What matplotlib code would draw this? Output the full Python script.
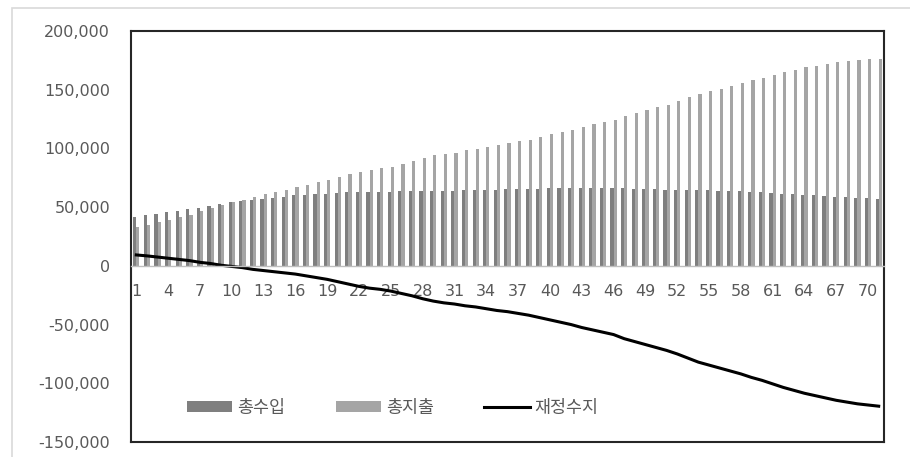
import matplotlib.pyplot as plt
import numpy as np
from matplotlib.patches import Rectangle

plt.rcParams['font.family'] = ['DejaVu Sans', 'Noto Sans CJK KR']

# 총수입 (total revenue), 총지출 (total expenditure), 재정수지 (fiscal balance)
years = list(range(1, 72))
revenue = [42000, 43000, 44500, 45500, 47000, 48000, 49500, 51000, 52500, 54000,
           55000, 56000, 57000, 58000, 59000, 60000, 60500, 61000, 61500, 62000,
           62500, 62500, 63000, 63000, 63000, 63500, 63500, 63500, 64000, 64000,
           64000, 64500, 64500, 65000, 65000, 65500, 65500, 65500, 65500, 66000,
           66000, 66000, 66000, 66000, 66000, 66000, 66000, 65500, 65500, 65500,
           65000, 65000, 65000, 64500, 64500, 64000, 64000, 63500, 63000, 62500,
           62000, 61500, 61000, 60500, 60000, 59500, 59000, 58500, 58000, 57500,
           57000]
expenditure = [32700, 34500, 37000, 39000, 41500, 43500, 46500, 49000, 52000, 54500,
               56500, 59000, 61000, 63000, 65000, 67000, 69000, 71000, 73000, 75500,
               78000, 80000, 82000, 83000, 84500, 87000, 89000, 91500, 94000, 95500,
               96500, 98500, 99500, 101500, 103000, 104500, 106000, 107500, 109500, 112000,
               114000, 116000, 118500, 120500, 122500, 124500, 128000, 130000, 132500, 135000,
               137000, 140000, 143500, 146500, 149000, 151000, 153500, 155500, 158000, 160000,
               162500, 165000, 167000, 169000, 170500, 172000, 173500, 174500, 175500, 176000,
               176500]
balance = [9300, 8500, 7500, 6500, 5500, 4500, 3000, 2000, 500, -500,
           -1500, -3000, -4000, -5000, -6000, -7000, -8500, -10000, -11500, -13500,
           -15500, -17500, -19000, -20000, -21500, -23500, -25500, -28000, -30000, -31500,
           -32500, -34000, -35000, -36500, -38000, -39000, -40500, -42000, -44000, -46000,
           -48000, -50000, -52500, -54500, -56500, -58500, -62000, -64500, -67000, -69500,
           -72000, -75000, -78500, -82000, -84500, -87000, -89500, -92000, -95000, -97500,
           -100500, -103500, -106000, -108500, -110500, -112500, -114500, -116000, -117500, -118500,
           -119500]
labels = ['총수입', '총지출', '재정수지']

W, H = 910, 457
fig = plt.figure(figsize=(W / 100, H / 100), dpi=100)
ax = fig.add_axes([131 / W, 1 - 442 / H, (884 - 131) / W, (442 - 31) / H])

# outer chart frame
fig.patches.append(Rectangle((12 / W, -0.01), 1, 1 - 8 / H + 0.01, transform=fig.transFigure,
                             fill=False, edgecolor='#d9d9d9', linewidth=1.2))

x = np.array(years)
w = 0.3
b1 = ax.bar(x - w / 2, revenue, w, color='#7f7f7f', label=labels[0])
b2 = ax.bar(x + w / 2, expenditure, w, color='#a5a5a5', label=labels[1])
l3, = ax.plot(x, balance, color='black', linewidth=2.2, label=labels[2])

ax.set_xlim(0.5, 71.5)
ax.set_ylim(-150000, 200000)
ax.set_yticks(np.arange(-150000, 200001, 50000))
ax.set_yticklabels([f'{v:,}' for v in range(-150000, 200001, 50000)])
ax.set_xticks(x[::3])
ax.set_xticklabels([str(v) for v in x[::3]])

ax.tick_params(axis='y', length=0, pad=15, labelsize=11.5, labelcolor='#595959')
ax.tick_params(axis='x', length=0, pad=13, labelsize=11.5, labelcolor='#595959')

for s in ['top', 'left', 'right']:
    ax.spines[s].set_color('#262626')
    ax.spines[s].set_linewidth(1.5)
ax.spines['bottom'].set_position(('data', 0))
ax.spines['bottom'].set_color('#bfbfbf')
ax.spines['bottom'].set_linewidth(1)
ax.plot([0, 1], [0, 0], transform=ax.transAxes, color='#262626', linewidth=1.5, clip_on=False)

leg = ax.legend([b1, b2, l3], labels, loc='center left',
                bbox_to_anchor=((187 - 131) / (884 - 131), 0.083),
                ncol=3, frameon=False, fontsize=12.5, borderpad=0, borderaxespad=0,
                handlelength=2.6, handleheight=0.6, handletextpad=0.3, columnspacing=2.9)
for t in leg.get_texts():
    t.set_color('#595959')

plt.savefig('out.png', dpi=100)
